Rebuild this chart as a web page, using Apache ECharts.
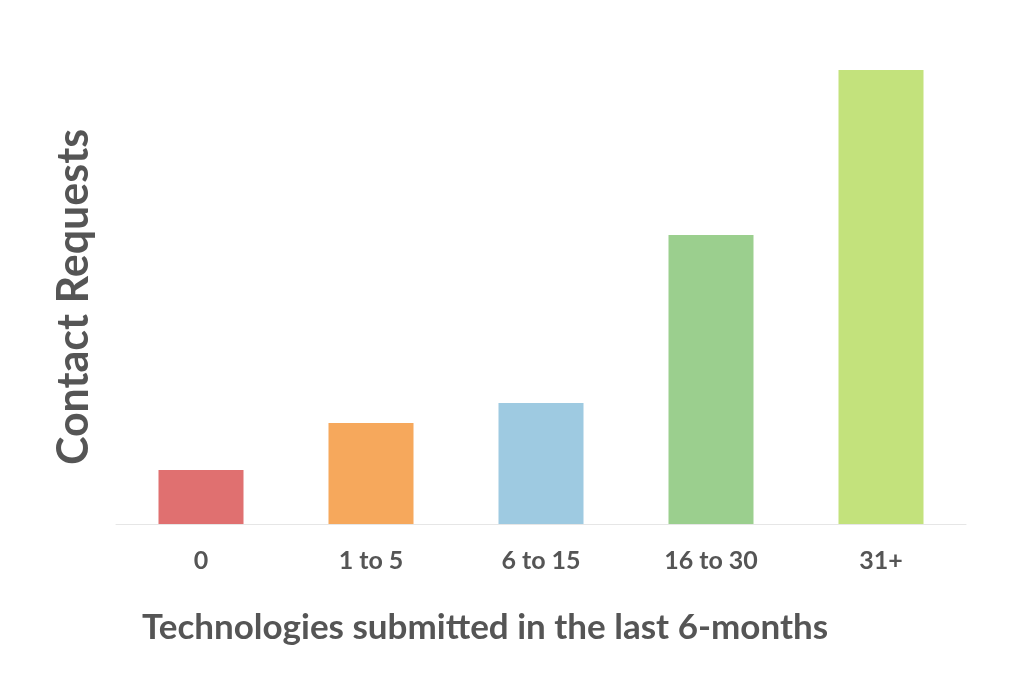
<!DOCTYPE html>
<html><head><meta charset="utf-8">
<script src="https://cdn.jsdelivr.net/npm/echarts@6/dist/echarts.min.js"></script>
<style>html,body{margin:0;padding:0;background:#fff}#c{width:1024px;height:685px}</style>
</head><body><div id="c"></div>
<script>
const categories = ["0", "1 to 5", "6 to 15", "16 to 30", "31+"];
const values = [54, 101, 121, 289, 454];
const colors = ["#e07070", "#f6a85c", "#9ecae1", "#9bcf8e", "#c3e27c"];
const chart = echarts.init(document.getElementById('c'));
chart.setOption({
  animation: false,
  grid: {left: 116, right: 58, top: 70, bottom: 161},
  xAxis: {
    type: 'category', data: categories,
    axisLine: {lineStyle: {color: '#e6e6e6'}}, axisTick: {show: false},
    axisLabel: {margin: 24, fontFamily: 'Lato', fontWeight: 'bold', fontSize: 25, color: '#555'},
    name: 'Technologies submitted in the last 6-months', nameLocation: 'middle', nameGap: 86,
    nameTextStyle: {fontFamily: 'Lato', fontWeight: 'bold', fontSize: 35, color: '#555', padding: [0, 112, 0, 0]}
  },
  yAxis: {
    type: 'value', min: 0, max: 454,
    axisLine: {show: false}, axisTick: {show: false}, axisLabel: {show: false}, splitLine: {show: false},
    name: 'Contact Requests', nameLocation: 'middle', nameGap: 20, nameRotate: 90,
    nameTextStyle: {fontFamily: 'Lato', fontWeight: 'bold', fontSize: 43, color: '#555', padding: [0, 0, 0, 0]}
  },
  series: [{
    type: 'bar', barWidth: '50%',
    data: values.map((v, i) => ({value: v, itemStyle: {color: colors[i]}}))
  }]
});
</script></body></html>
